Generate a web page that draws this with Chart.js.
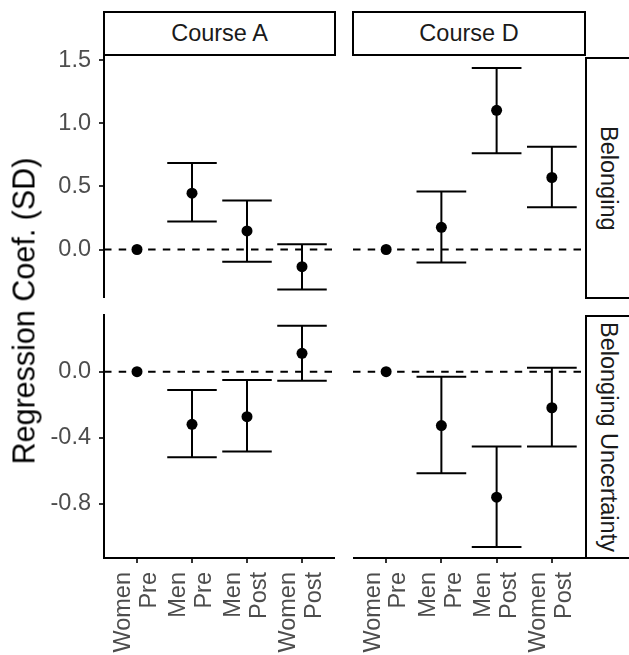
<!DOCTYPE html>
<html>
<head>
<meta charset="utf-8">
<script src="https://cdn.jsdelivr.net/npm/chart.js"></script>
<style>
  body { margin: 0; background: #fff; }
  #wrap { position: relative; width: 629px; height: 655px; overflow: hidden; font-family: "Liberation Sans", Arial, sans-serif; }
  .panel { position: absolute; }
  .strip { position: absolute; box-sizing: border-box; border: 2px solid #000; background: #fff; color: #1a1a1a; font-size: 23.5px; display: flex; align-items: center; justify-content: center; white-space: nowrap; }
  .strip.right { writing-mode: vertical-rl; }
  #ytitle { position: absolute; left: 24px; top: 311px; transform: translate(-50%, -50%) rotate(-90deg); font-size: 30.5px; color: #000; white-space: nowrap; }
</style>
</head>
<body>
<div id="wrap">
  <div class="panel" style="left:0;top:40px;width:335px;height:258px"><canvas id="topA"></canvas></div>
  <div class="panel" style="left:353px;top:40px;width:232px;height:258px"><canvas id="topD"></canvas></div>
  <div class="panel" style="left:0;top:300px;width:335px;height:355px"><canvas id="botA"></canvas></div>
  <div class="panel" style="left:353px;top:300px;width:232px;height:355px"><canvas id="botD"></canvas></div>
  <div class="strip" style="left:103px;top:11px;width:233px;height:45px">Course A</div>
  <div class="strip" style="left:352px;top:11px;width:234px;height:45px">Course D</div>
  <div class="strip right" style="left:585px;top:57px;width:46px;height:242px">Belonging</div>
  <div class="strip right" style="left:585px;top:315px;width:46px;height:244px">Belonging Uncertainty</div>
  <div id="ytitle">Regression Coef. (SD)</div>
</div>
<script>
  const categories = [["Women", "Pre"], ["Men", "Pre"], ["Men", "Post"], ["Women", "Post"]];

  // Belonging
  const belongA = [0, 0.446, 0.147, -0.136];
  const belongALow = [null, 0.221, -0.097, -0.316];
  const belongAHigh = [null, 0.684, 0.387, 0.041];
  const belongD = [0, 0.176, 1.102, 0.570];
  const belongDLow = [null, -0.102, 0.763, 0.335];
  const belongDHigh = [null, 0.459, 1.438, 0.813];

  // Belonging uncertainty
  const uncertA = [0, -0.318, -0.272, 0.111];
  const uncertALow = [null, -0.517, -0.483, -0.054];
  const uncertAHigh = [null, -0.111, -0.050, 0.278];
  const uncertD = [0, -0.326, -0.759, -0.218];
  const uncertDLow = [null, -0.614, -1.061, -0.453];
  const uncertDHigh = [null, -0.030, -0.453, 0.024];

  const belongTicks = [0, 0.5, 1.0, 1.5];
  const belongTickLabels = ["0.0", "0.5", "1.0", "1.5"];
  const uncertTicks = [-0.8, -0.4, 0.0];
  const uncertTickLabels = ["-0.8", "-0.4", "0.0"];

  const FONT = "'Liberation Sans', Arial, sans-serif";

  // draws the error bars just before the points, using the chart's scales
  const errorBars = {
    id: "errorBars",
    beforeDatasetDraw(chart, args) {
      const ds = chart.data.datasets[args.index];
      if (!ds.lower) return;
      const { ctx, scales: { x, y } } = chart;
      ctx.save();
      ctx.strokeStyle = "#000";
      ctx.lineWidth = 2;
      ds.lower.forEach((lo, i) => {
        if (lo === null) return;
        const hi = ds.upper[i];
        const px = x.getPixelForValue(i);
        const l = x.getPixelForValue(i - 0.45);
        const r = x.getPixelForValue(i + 0.45);
        const yl = y.getPixelForValue(lo);
        const yh = y.getPixelForValue(hi);
        ctx.beginPath();
        ctx.moveTo(px, yl); ctx.lineTo(px, yh);
        ctx.moveTo(l, yl); ctx.lineTo(r, yl);
        ctx.moveTo(l, yh); ctx.lineTo(r, yh);
        ctx.stroke();
      });
      ctx.restore();
    }
  };

  function makePanel(id, vals, low, high, yMin, yMax, yTicks, yLabels, showY, showX) {
    new Chart(document.getElementById(id), {
      type: "scatter",
      data: {
        datasets: [
          {
            type: "line",
            data: [{ x: -0.6, y: 0 }, { x: 3.6, y: 0 }],
            borderColor: "#000",
            borderWidth: 2,
            borderDash: [7.5, 7.2],
            pointRadius: 0,
            order: 2
          },
          {
            data: vals.map((v, i) => ({ x: i, y: v })),
            lower: low,
            upper: high,
            backgroundColor: "#000",
            borderColor: "#000",
            pointRadius: 5.5,
            borderWidth: 0,
            order: 1,
            clip: false
          }
        ]
      },
      options: {
        responsive: true,
        maintainAspectRatio: false,
        animation: false,
        layout: { autoPadding: false, padding: { top: 15, left: 0, right: 0, bottom: 0 } },
        plugins: { legend: { display: false }, tooltip: { enabled: false } },
        scales: {
          x: {
            type: "linear",
            min: -0.6,
            max: 3.6,
            display: showX,
            afterBuildTicks: (axis) => { axis.ticks = categories.map((c, i) => ({ value: i })); },
            afterFit: (axis) => {
              axis.height = showX ? 97 : 0;
              axis.paddingLeft = 0;
              axis.paddingRight = 0;
            },
            border: { display: true, color: "#000", width: 2 },
            grid: { drawOnChartArea: false, drawTicks: true, tickLength: 5, color: "#333", lineWidth: 2 },
            ticks: {
              autoSkip: false,
              minRotation: 90,
              maxRotation: 90,
              padding: 9,
              labelOffset: -13,
              color: "#4d4d4d",
              font: { size: 23.5, family: FONT, lineHeight: 1.1 },
              callback: (v, i) => categories[i]
            }
          },
          y: {
            type: "linear",
            min: yMin,
            max: yMax,
            display: showY,
            afterBuildTicks: (axis) => { axis.ticks = yTicks.map((v) => ({ value: v })); },
            afterFit: (axis) => {
              axis.width = showY ? 104 : 0;
              axis.paddingTop = 0;
              axis.paddingBottom = 0;
            },
            border: { display: true, color: "#000", width: 2 },
            grid: { drawOnChartArea: false, drawTicks: true, tickLength: 5, color: "#333", lineWidth: 2 },
            ticks: {
              padding: 8,
              color: "#4d4d4d",
              font: { size: 23.5, family: FONT },
              callback: (v, i) => yLabels[i]
            }
          }
        }
      },
      plugins: [errorBars]
    });
  }

  makePanel("topA", belongA, belongALow, belongAHigh, -0.384, 1.540, belongTicks, belongTickLabels, true, false);
  makePanel("topD", belongD, belongDLow, belongDHigh, -0.384, 1.540, belongTicks, belongTickLabels, false, false);
  makePanel("botA", uncertA, uncertALow, uncertAHigh, -1.127, 0.343, uncertTicks, uncertTickLabels, true, true);
  makePanel("botD", uncertD, uncertDLow, uncertDHigh, -1.127, 0.343, uncertTicks, uncertTickLabels, false, true);
</script>
</body>
</html>
